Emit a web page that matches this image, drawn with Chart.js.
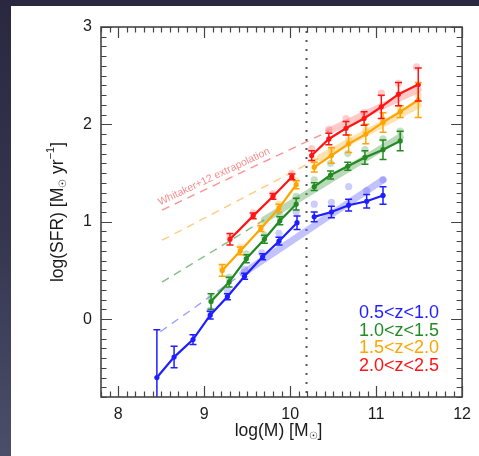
<!DOCTYPE html>
<html><head><meta charset="utf-8">
<script src="https://cdn.jsdelivr.net/npm/chart.js@4.4.0/dist/chart.umd.min.js"></script>
<style>
html,body{margin:0;padding:0;width:479px;height:456px;overflow:hidden;}
body{background:linear-gradient(to bottom,#2a2841 0%,#35354f 50%,#4b4e6a 100%);position:relative;}
#panel{position:absolute;left:11px;top:6px;right:0;bottom:0;background:#fff;}
#c{position:absolute;left:0;top:0;}
</style></head><body>
<div id="panel"></div>
<canvas id="c" width="479" height="456"></canvas>
<script>
// ---- data ----
const xTicks = [8, 9, 10, 11, 12];
const yTicks = [0, 1, 2, 3];
const seriesLabels = ['0.5<z<1.0', '1.0<z<1.5', '1.5<z<2.0', '2.0<z<2.5'];
const massLimit = 10.18;
const fitLabel = 'Whitaker+12 extrapolation';

// main measurements (null = break at the mass limit)
const blueM   = [8.45, 8.65, 8.87, 9.07, 9.27, 9.47, 9.68, 9.87, 10.08, null, 10.28, 10.48, 10.68, 10.89, 11.08];
const blueSFR = [-0.60, -0.39, -0.21, 0.04, 0.23, 0.44, 0.64, 0.80, 0.99, null, 1.05, 1.10, 1.17, 1.21, 1.27];
const blueErr = [0.49, 0.11, 0.05, 0.04, 0.03, 0.03, 0.03, 0.04, 0.07, null, 0.05, 0.06, 0.06, 0.07, 0.09];

const greenM   = [9.08, 9.29, 9.49, 9.70, 9.88, 10.07, null, 10.28, 10.47, 10.67, 10.87, 11.08, 11.28];
const greenSFR = [0.18, 0.38, 0.62, 0.82, 1.01, 1.18, null, 1.36, 1.48, 1.57, 1.66, 1.74, 1.83];
const greenErr = [0.08, 0.05, 0.04, 0.04, 0.04, 0.06, null, 0.04, 0.04, 0.04, 0.07, 0.10, 0.10];

const orangeM   = [9.21, 9.42, 9.66, 9.87, 10.07, null, 10.28, 10.48, 10.68, 10.88, 11.08, 11.28, 11.49];
const orangeSFR = [0.50, 0.70, 0.93, 1.14, 1.38, null, 1.56, 1.68, 1.80, 1.90, 2.02, 2.13, 2.25];
const orangeErr = [0.06, 0.04, 0.03, 0.04, 0.04, null, 0.05, 0.08, 0.09, 0.10, 0.10, 0.06, 0.18];

const redM   = [9.30, 9.57, 9.80, 10.02, null, 10.25, 10.45, 10.65, 10.86, 11.06, 11.26, 11.49];
const redSFR = [0.82, 1.06, 1.26, 1.46, null, 1.68, 1.85, 1.96, 2.06, 2.18, 2.31, 2.41];
const redErr = [0.06, 0.03, 0.03, 0.03, null, 0.05, 0.06, 0.07, 0.07, 0.12, 0.12, 0.17];

// faint comparison points
const blueFaintM   = [9.07, 9.27, 9.47, 9.67, 9.87, 10.07, 10.28, 10.48, 10.68, 10.89, 11.08];
const blueFaintSFR = [0.09, 0.29, 0.51, 0.68, 0.88, 1.10, 1.18, 1.20, 1.36, 1.32, 1.43];
const greenFaintM   = [9.08, 9.29, 9.49, 9.70, 9.88, 10.07, 10.28, 10.47, 10.67, 10.87, 11.08, 11.28];
const greenFaintSFR = [0.22, 0.43, 0.67, 0.86, 1.06, 1.26, 1.43, 1.60, 1.70, 1.74, 1.85, 1.93];
const orangeFaintM   = [9.21, 9.42, 9.66, 9.87, 10.07, 10.28, 10.48, 10.68, 10.88, 11.08, 11.28, 11.49];
const orangeFaintSFR = [0.53, 0.74, 0.97, 1.18, 1.42, 1.62, 1.74, 1.84, 1.94, 2.05, 2.17, 2.30];
const redFaintM   = [9.30, 9.57, 9.80, 10.02, 10.25, 10.45, 10.65, 10.86, 11.06, 11.26, 11.47];
const redFaintSFR = [0.85, 1.09, 1.29, 1.50, 1.75, 1.95, 2.06, 2.12, 2.32, 2.42, 2.59];

// Whitaker+12 relations: dashed extrapolation start, start of fitted range, end of range
const fitStartM   = [8.49, 8.51, 8.51, 8.51];
const fitStartSFR = [-0.13, 0.38, 0.81, 1.12];
const fitBreakM   = [9.45, 9.70, 10.35, 10.45];
const fitBreakSFR = [0.47, 1.02, 1.66, 1.93];
const fitEndM     = [11.08, 11.28, 11.49, 11.49];
const fitEndSFR   = [1.43, 1.87, 2.20, 2.36];

// ---- styling ----
const FONT = "'Liberation Sans', Arial, Helvetica, sans-serif";
const colors = ['#1e1eff', '#238b23', '#ffa500', '#ff1414'];
const faint  = ['rgba(110,110,255,0.35)', 'rgba(60,150,60,0.3)', 'rgba(255,180,60,0.35)', 'rgba(255,90,90,0.3)'];
const thick  = ['rgba(120,120,255,0.45)', 'rgba(80,160,80,0.4)', 'rgba(255,190,80,0.45)', 'rgba(255,120,120,0.4)'];
const dashC  = ['rgba(130,130,255,0.75)', 'rgba(90,170,90,0.75)', 'rgba(255,190,100,0.8)', 'rgba(250,120,120,0.8)'];

function pts(m, s) { return m.map((v, i) => v === null ? {x: null, y: null} : {x: v, y: s[i]}); }

const mains = [[blueM, blueSFR, blueErr], [greenM, greenSFR, greenErr], [orangeM, orangeSFR, orangeErr], [redM, redSFR, redErr]];
const faints = [[blueFaintM, blueFaintSFR], [greenFaintM, greenFaintSFR], [orangeFaintM, orangeFaintSFR], [redFaintM, redFaintSFR]];

const datasets = [];
mains.forEach(([m, s, e], k) => datasets.push({
  label: seriesLabels[k], data: pts(m, s), errors: e, showLine: true, spanGaps: false,
  borderColor: colors[k], backgroundColor: colors[k], borderWidth: 2.2,
  pointRadius: 2.6, pointBorderWidth: 0, order: 0
}));
faints.forEach(([m, s], k) => datasets.push({
  data: pts(m, s), showLine: false, pointRadius: 3.6, pointBorderWidth: 0,
  backgroundColor: faint[k], borderColor: faint[k], order: 1
}));
for (let k = 0; k < 4; k++) {
  datasets.push({
    data: [{x: fitBreakM[k], y: fitBreakSFR[k]}, {x: fitEndM[k], y: fitEndSFR[k]}],
    showLine: true, pointRadius: 0, borderWidth: 7, borderColor: thick[k], borderCapStyle: 'round', order: 2
  });
  datasets.push({
    data: [{x: fitStartM[k], y: fitStartSFR[k]}, {x: fitBreakM[k], y: fitBreakSFR[k]}],
    showLine: true, pointRadius: 0, borderWidth: 1.4, borderColor: dashC[k], borderDash: [8, 6], order: 3
  });
}

function drawSegments(ctx, segs, cx, cy, rot) {
  ctx.save();
  ctx.translate(cx, cy); ctx.rotate(rot);
  let total = 0;
  segs.forEach(sg => { ctx.font = sg.size + 'px ' + FONT; sg.w = ctx.measureText(sg.t).width; total += sg.w; });
  let x = -total / 2;
  ctx.textBaseline = 'middle'; ctx.textAlign = 'left'; ctx.fillStyle = '#1a1a1a';
  segs.forEach(sg => { ctx.font = sg.size + 'px ' + FONT; ctx.fillText(sg.t, x, sg.dy || 0); x += sg.w; });
  ctx.restore();
}

const decor = {
  id: 'decor',
  beforeDatasetsDraw(chart) {
    const {ctx, chartArea: a, scales: {x, y}} = chart;
    ctx.save();
    // mass-completeness dotted line
    const px = Math.round(x.getPixelForValue(massLimit)) + 0.5;
    ctx.strokeStyle = '#555'; ctx.lineWidth = 2; ctx.setLineDash([2, 7]);
    ctx.beginPath(); ctx.moveTo(px, a.top + 4); ctx.lineTo(px, a.bottom); ctx.stroke();
    ctx.setLineDash([]);
    // Whitaker label along the red dashed line
    const x0 = x.getPixelForValue(fitStartM[3]), y0 = y.getPixelForValue(fitStartSFR[3]);
    const x1 = x.getPixelForValue(fitBreakM[3]), y1 = y.getPixelForValue(fitBreakSFR[3]);
    const ang = Math.atan2(y1 - y0, x1 - x0);
    ctx.translate(x0, y0); ctx.rotate(ang);
    ctx.font = '10.5px ' + FONT; ctx.fillStyle = 'rgba(245,120,120,0.85)';
    ctx.textAlign = 'left'; ctx.textBaseline = 'alphabetic';
    ctx.fillText(fitLabel, 0, -5);
    ctx.restore();
  },
  afterDatasetsDraw(chart) {
    const {ctx, chartArea: a, scales: {x, y}} = chart;
    ctx.save();
    ctx.beginPath(); ctx.rect(a.left, a.top, a.right - a.left, a.bottom - a.top); ctx.clip();
    // error bars
    chart.data.datasets.forEach(ds => {
      if (!ds.errors) return;
      ctx.strokeStyle = ds.borderColor; ctx.lineWidth = 1.5;
      ds.data.forEach((p, i) => {
        const e = ds.errors[i];
        if (p.x === null || e === null) return;
        const px = x.getPixelForValue(p.x);
        const yt = y.getPixelForValue(p.y + e), yb = y.getPixelForValue(p.y - e);
        ctx.beginPath();
        ctx.moveTo(px, yt); ctx.lineTo(px, yb);
        ctx.moveTo(px - 3.5, yt); ctx.lineTo(px + 3.5, yt);
        ctx.moveTo(px - 3.5, yb); ctx.lineTo(px + 3.5, yb);
        ctx.stroke();
      });
    });
    ctx.restore();
    ctx.save();
    // frame + inward ticks
    ctx.strokeStyle = '#3a3a3a'; ctx.lineWidth = 1.5;
    ctx.strokeRect(a.left, a.top, a.right - a.left, a.bottom - a.top);
    ctx.lineWidth = 1.2; ctx.strokeStyle = '#444';
    ctx.beginPath();
    for (let i = Math.ceil(x.min * 10); i <= Math.floor(x.max * 10); i++) {
      const v = i / 10, px = Math.round(x.getPixelForValue(v)) + 0.5;
      const len = (i % 10 === 0) ? 11 : 5.5;
      ctx.moveTo(px, a.bottom); ctx.lineTo(px, a.bottom - len);
      ctx.moveTo(px, a.top); ctx.lineTo(px, a.top + len);
    }
    for (let i = Math.ceil(y.min * 10); i <= Math.floor(y.max * 10); i++) {
      const v = i / 10, py = Math.round(y.getPixelForValue(v)) + 0.5;
      const len = (i % 10 === 0) ? 11 : 5.5;
      ctx.moveTo(a.left, py); ctx.lineTo(a.left + len, py);
      ctx.moveTo(a.right, py); ctx.lineTo(a.right - len, py);
    }
    ctx.stroke();
    // legend inside plot
    ctx.font = '18px ' + FONT; ctx.textAlign = 'right'; ctx.textBaseline = 'middle';
    seriesLabels.forEach((t, k) => {
      ctx.fillStyle = colors[k];
      ctx.fillText(t, a.right - 23, a.bottom - 84 + k * 17.6);
    });
    ctx.restore();
    // axis titles with sub/superscripts
    drawSegments(ctx, [{t: 'log(M) [M', size: 17.5}, {t: '\u2609', size: 10, dy: 5}, {t: ']', size: 17.5}],
      (a.left + a.right) / 2 - 3, a.bottom + 34, 0);
    drawSegments(ctx, [{t: 'log(SFR) [M', size: 17.5}, {t: '\u2609', size: 10, dy: 5}, {t: ' yr', size: 17.5},
      {t: '\u22121', size: 11, dy: -7}, {t: ']', size: 17.5}],
      58, (a.top + a.bottom) / 2, -Math.PI / 2);
  }
};

new Chart(document.getElementById('c'), {
  type: 'scatter',
  data: {datasets},
  options: {
    responsive: false, animation: false, devicePixelRatio: 1,
    layout: {padding: {left: 0, top: 27, right: 9, bottom: 0}},
    plugins: {legend: {display: false}, tooltip: {enabled: false}},
    scales: {
      x: {
        type: 'linear', min: 7.8, max: 12,
        afterBuildTicks: s => { s.ticks = xTicks.map(v => ({value: v})); },
        afterFit: s => { s.height = 59; },
        grid: {display: false, drawTicks: false}, border: {display: false},
        ticks: {padding: 8, color: '#1a1a1a', font: {family: FONT, size: 16}, maxRotation: 0}
      },
      y: {
        type: 'linear', min: -0.8, max: 3,
        afterBuildTicks: s => { s.ticks = yTicks.map(v => ({value: v})); },
        afterFit: s => { s.width = 101; },
        grid: {display: false, drawTicks: false}, border: {display: false},
        ticks: {padding: 9, color: '#1a1a1a', font: {family: FONT, size: 16}}
      }
    }
  },
  plugins: [decor]
});
</script></body></html>
